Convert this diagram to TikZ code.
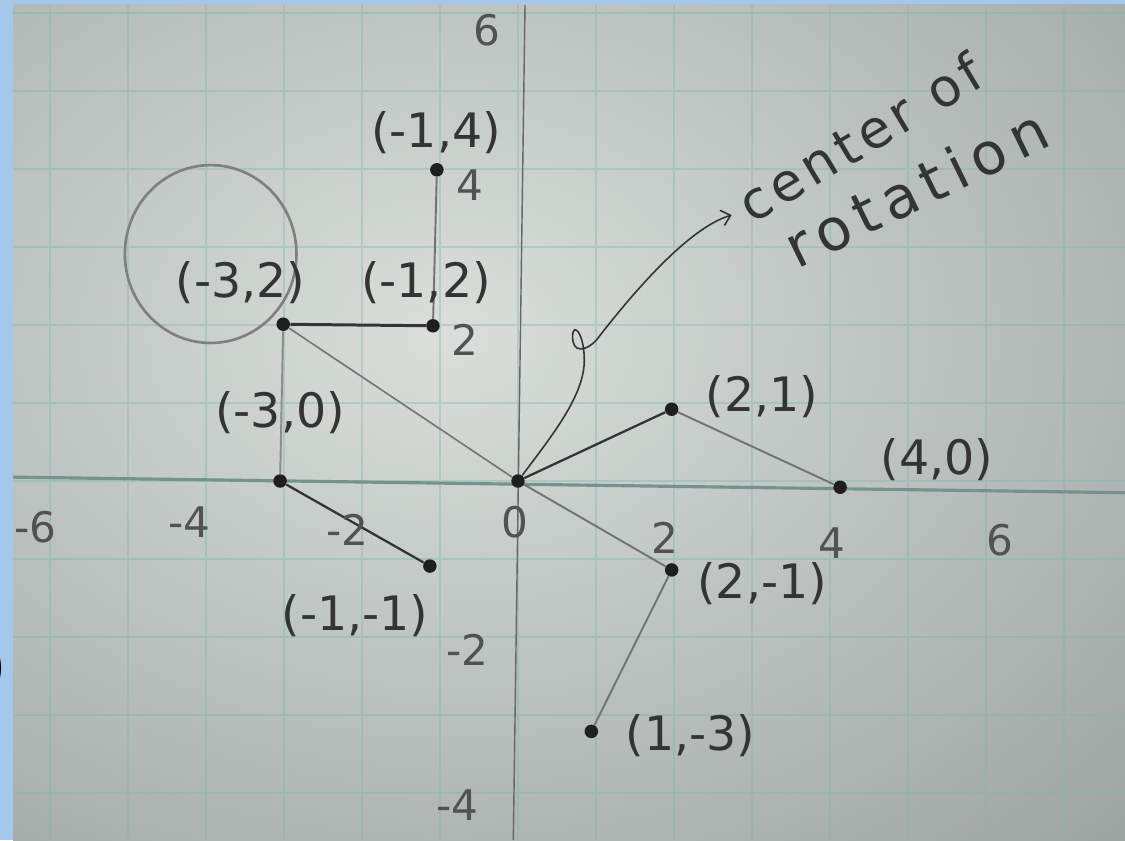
\documentclass[tikz,border=0pt]{standalone}
\usepackage{fontspec}
\setmainfont{DejaVu Sans}
\usetikzlibrary{arrows.meta,shapes.geometric}
\definecolor{paperlt}{RGB}{218,223,219}
\definecolor{paperdk}{RGB}{124,133,132}
\definecolor{frameblue}{RGB}{164,200,236}
\definecolor{gridteal}{RGB}{130,182,172}
\definecolor{axisteal}{RGB}{118,146,140}
\definecolor{pencil}{RGB}{52,52,52}
\begin{document}
\begin{tikzpicture}[x=1.56cm,y=1.56cm,
  dot/.style={circle, fill=black!88, inner sep=0pt, minimum size=0.27cm},
  ptlabel/.style={text=pencil, font=\fontsize{27}{30}\selectfont, inner sep=0pt},
  axlabel/.style={text=pencil!85, font=\fontsize{24}{28}\selectfont, inner sep=0pt},
  rotlabel/.style={text=pencil, inner sep=0pt, anchor=base west},
  seg/.style={draw=pencil, line width=1.3pt},
  lightseg/.style={draw=black!55, line width=1.1pt}]
\useasboundingbox (-6.641,-4.603) rectangle (7.782,6.167);
\fill[frameblue] (-6.641,-4.603) rectangle (7.782,6.167);
\begin{scope}
\clip (-6.474,-4.603) rectangle (7.782,6.103);
\shade[inner color=paperlt, outer color=paperdk] (-0.9,1.9) ellipse (19 and 14);
\draw[gridteal, line width=0.8pt, opacity=0.4, step=1.56cm] (-6.474,-4.603) grid (7.782,6.103);
\end{scope}

% axes
\draw[axisteal, line width=1.8pt] (-6.474,0.05) -- (7.782,-0.15);
\draw[black!60, line width=0.8pt] (0.09,6.103) -- (-0.06,-4.603);

% points
\node[dot] (o) at (0,0) {};
\node[dot] (a) at (1.97,0.92) {};
\node[dot] (b) at (4.13,-0.08) {};
\node[dot] (c) at (1.97,-1.14) {};
\node[dot] (d) at (0.94,-3.21) {};
\node[dot] (e) at (-3.01,2.01) {};
\node[dot] (f) at (-1.09,1.99) {};
\node[dot] (g) at (-1.04,3.99) {};
\node[dot] (h) at (-3.05,0) {};
\node[dot] (i) at (-1.13,-1.09) {};

\node[draw=black!50, line width=1.5pt, ellipse, minimum width=2.2*1.56cm, minimum height=2.28*1.56cm, inner sep=0pt] (ring) at (-3.94,2.91) {};

\draw[seg] (o) -- (a);
\draw[lightseg] (a) -- (b);
\draw[lightseg] (o) -- (c);
\draw[lightseg] (c) -- (d);
\draw[lightseg, line width=0.9pt] (e) -- (o);
\draw[seg, line width=1.7pt] (e) -- (f);
\draw[lightseg] (f) -- (g);
\draw[lightseg, draw=black!45] (e) -- (h);
\draw[seg] (h) -- (i);

% point labels
\node[ptlabel] (la) at (3.13,1.08) {(2,1)};
\node[ptlabel] (lb) at (5.37,0.27) {(4,0)};
\node[ptlabel] (lc) at (3.13,-1.31) {(2,-1)};
\node[ptlabel] (ld) at (2.21,-3.26) {(1,-3)};
\node[ptlabel] (le) at (-3.56,2.54) {(-3,2)};
\node[ptlabel] (lf) at (-1.18,2.54) {(-1,2)};
\node[ptlabel] (lg) at (-1.05,4.47) {(-1,4)};
\node[ptlabel] (lh) at (-3.05,0.88) {(-3,0)};
\node[ptlabel] (li) at (-2.09,-1.72) {(-1,-1)};

% axis numbers
\node[axlabel] (y6) at (-0.40,5.78) {6};
\node[axlabel] (y4) at (-0.62,3.79) {4};
\node[axlabel] (y2) at (-0.68,1.81) {2};
\node[axlabel] (ym2) at (-0.65,-2.17) {-2};
\node[axlabel] (ym4) at (-0.78,-4.15) {-4};
\node[axlabel] (xm6) at (-6.19,-0.59) {-6};
\node[axlabel] (xm4) at (-4.21,-0.53) {-4};
\node[axlabel] (xm2) at (-2.19,-0.63) {-2};
\node[axlabel] (x0) at (-0.04,-0.53) {0};
\node[axlabel] (x2) at (1.88,-0.73) {2};
\node[axlabel] (x4) at (4.03,-0.79) {4};
\node[axlabel] (x6) at (6.18,-0.76) {6};

% center of rotation
\node[rotlabel, rotate=31, font=\fontsize{30}{34}\selectfont\addfontfeatures{LetterSpace=10}] (ctr) at (3.0,3.28) {center of};
\node[rotlabel, rotate=26, font=\fontsize{33}{37}\selectfont\addfontfeatures{LetterSpace=14}] (rot) at (3.58,2.71) {rotation};
\coordinate (tip) at (2.74,3.41);
\draw[pencil, line width=0.9pt, -{Straight Barb[length=5pt,width=9pt]}] (o) .. controls (0.45,0.6) and (0.85,1.1) .. (0.85,1.55) .. controls (0.85,1.9) and (0.7,2.05) .. (0.7,1.85) .. controls (0.7,1.65) and (0.85,1.65) .. (1.0,1.8) .. controls (1.5,2.45) and (2.2,3.25) .. (tip);

\node[anchor=east, inner sep=0pt, font=\fontsize{40}{44}\selectfont\bfseries] (paren) at (-6.54,-2.40) {)};
\end{tikzpicture}
\end{document}
